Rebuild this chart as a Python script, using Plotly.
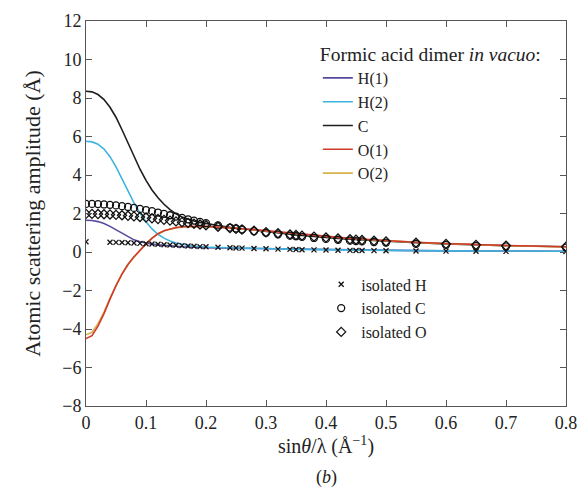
import plotly.graph_objects as go

# Tabulated sinθ/λ values (Å⁻¹): 0.01 steps up to 0.20, then coarser
s_table = [0.00, 0.01, 0.02, 0.03, 0.04, 0.05, 0.06, 0.07, 0.08, 0.09,
           0.10, 0.11, 0.12, 0.13, 0.14, 0.15, 0.16, 0.17, 0.18, 0.19,
           0.20, 0.22, 0.24, 0.25, 0.26, 0.28, 0.30, 0.32, 0.34, 0.35,
           0.36, 0.38, 0.40, 0.42, 0.44, 0.45, 0.46, 0.48, 0.50, 0.55,
           0.60, 0.65, 0.70, 0.80]

# Atomic scattering amplitudes (Å) of the atoms in the formic acid dimer
h1_amp = [1.65, 1.64, 1.58, 1.48, 1.33, 1.15, 0.95, 0.77, 0.63, 0.53,
          0.46, 0.41, 0.37, 0.34, 0.31, 0.29, 0.27, 0.26, 0.24, 0.23,
          0.22, 0.21, 0.20, 0.19, 0.185, 0.17, 0.16, 0.15, 0.14, 0.135,
          0.13, 0.12, 0.11, 0.10, 0.095, 0.09, 0.088, 0.083, 0.08, 0.07,
          0.06, 0.055, 0.05, 0.04]
h2_amp = [5.75, 5.72, 5.60, 5.35, 4.95, 4.42, 3.80, 3.15, 2.55, 2.02,
          1.57, 1.20, 0.92, 0.72, 0.57, 0.47, 0.40, 0.35, 0.31, 0.28,
          0.26, 0.235, 0.215, 0.205, 0.195, 0.18, 0.165, 0.155, 0.145, 0.14,
          0.135, 0.125, 0.115, 0.105, 0.098, 0.094, 0.09, 0.085, 0.08, 0.07,
          0.06, 0.055, 0.05, 0.04]
c_amp = [8.35, 8.32, 8.18, 7.92, 7.52, 7.00, 6.35, 5.65, 4.95, 4.30,
         3.72, 3.22, 2.82, 2.48, 2.20, 1.98, 1.82, 1.70, 1.61, 1.54,
         1.48, 1.38, 1.29, 1.25, 1.21, 1.13, 1.05, 0.98, 0.92, 0.89,
         0.86, 0.80, 0.75, 0.70, 0.66, 0.64, 0.62, 0.58, 0.55, 0.48,
         0.42, 0.37, 0.33, 0.27]
o1_amp = [-4.50, -4.35, -3.85, -3.20, -2.45, -1.75, -1.15, -0.65, -0.25, 0.10,
          0.42, 0.72, 0.95, 1.10, 1.20, 1.27, 1.31, 1.33, 1.34, 1.34,
          1.33, 1.30, 1.26, 1.24, 1.21, 1.16, 1.10, 1.04, 0.98, 0.95,
          0.92, 0.86, 0.81, 0.76, 0.71, 0.69, 0.67, 0.63, 0.59, 0.51,
          0.44, 0.38, 0.34, 0.27]
o2_amp = [-4.30, -4.17, -3.72, -3.12, -2.40, -1.72, -1.13, -0.64, -0.25, 0.09,
          0.41, 0.71, 0.94, 1.09, 1.19, 1.26, 1.30, 1.32, 1.33, 1.33,
          1.32, 1.29, 1.25, 1.23, 1.20, 1.15, 1.09, 1.03, 0.97, 0.94,
          0.91, 0.85, 0.80, 0.75, 0.70, 0.68, 0.66, 0.62, 0.58, 0.50,
          0.43, 0.37, 0.33, 0.26]

# Isolated atoms at the same tabulated points
iso_c = [2.50, 2.50, 2.49, 2.47, 2.45, 2.42, 2.38, 2.34, 2.29, 2.24,
         2.18, 2.12, 2.05, 1.98, 1.91, 1.84, 1.77, 1.70, 1.63, 1.56,
         1.50, 1.38, 1.27, 1.22, 1.17, 1.08, 0.99, 0.92, 0.85, 0.82,
         0.79, 0.73, 0.68, 0.63, 0.59, 0.57, 0.55, 0.52, 0.49, 0.42,
         0.37, 0.32, 0.29, 0.23]
iso_o = [1.98, 1.98, 1.97, 1.96, 1.95, 1.93, 1.91, 1.88, 1.85, 1.82,
         1.79, 1.75, 1.71, 1.67, 1.63, 1.59, 1.55, 1.51, 1.47, 1.43,
         1.39, 1.31, 1.24, 1.20, 1.17, 1.10, 1.03, 0.97, 0.91, 0.88,
         0.85, 0.80, 0.75, 0.70, 0.66, 0.64, 0.62, 0.58, 0.55, 0.48,
         0.42, 0.37, 0.33, 0.27]

# Isolated H is listed at s = 0 and then from 0.04 onwards
s_table_h = [0.00, 0.04, 0.05, 0.06, 0.07, 0.08, 0.09,
             0.10, 0.11, 0.12, 0.13, 0.14, 0.15, 0.16, 0.17, 0.18, 0.19,
             0.20, 0.22, 0.24, 0.25, 0.26, 0.28, 0.30, 0.32, 0.34, 0.35,
             0.36, 0.38, 0.40, 0.42, 0.44, 0.45, 0.46, 0.48, 0.50, 0.55,
             0.60, 0.65, 0.70, 0.80]
iso_h = [0.53, 0.51, 0.50, 0.49, 0.48, 0.47, 0.45,
         0.43, 0.42, 0.40, 0.38, 0.36, 0.35, 0.33, 0.31, 0.30, 0.28,
         0.27, 0.25, 0.22, 0.21, 0.20, 0.18, 0.165, 0.15, 0.135, 0.13,
         0.12, 0.11, 0.10, 0.093, 0.085, 0.082, 0.079, 0.072, 0.066, 0.055,
         0.045, 0.038, 0.032, 0.024]

FONT = "Liberation Serif, Times New Roman, serif"
INK = "#222"

fig = go.Figure()

# Dimer atoms as lines; O(2) drawn under O(1)
curves = [
    ("H(1)", h1_amp, "#56499c", 1),
    ("H(2)", h2_amp, "#3fb3df", 2),
    ("C", c_amp, "#1e1e1e", 3),
    ("O(2)", o2_amp, "#d6b24e", 5),
    ("O(1)", o1_amp, "#cf3b2b", 4),
]
for name, vals, color, rank in curves:
    fig.add_trace(go.Scatter(
        x=s_table, y=vals, name=name, mode="lines",
        line=dict(color=color, width=1.6),
        legend="legend", legendrank=rank,
    ))

# Isolated-atom reference values as open symbols
markers = [
    ("isolated H", s_table_h, iso_h, "x-thin", 5),
    ("isolated C", s_table, iso_c, "circle-open", 7),
    ("isolated O", s_table, iso_o, "diamond-open", 7),
]
for name, xs, ys, sym, size in markers:
    fig.add_trace(go.Scatter(
        x=xs, y=ys, name=name, mode="markers",
        marker=dict(symbol=sym, size=size, color="#111",
                    line=dict(color="#111", width=1.3)),
        legend="legend2",
    ))

axis_common = dict(
    showline=True, linecolor="#555", linewidth=1, mirror="ticks",
    ticks="inside", ticklen=6, tickcolor="#555", showgrid=False,
    zeroline=False, tickfont=dict(family=FONT, size=18, color=INK),
)

fig.update_xaxes(
    range=[0, 0.8], dtick=0.1, ticklabeloverflow="allow", **axis_common,
    title=dict(text="sin<i>θ</i>/λ (Å<sup>−1</sup>)",
               font=dict(family=FONT, size=20, color=INK), standoff=4),
)
fig.update_yaxes(
    range=[-8, 12], dtick=2, **axis_common,
    title=dict(text="Atomic scattering amplitude (Å)",
               font=dict(family=FONT, size=22, color=INK), standoff=15),
)

fig.update_layout(
    width=588, height=495,
    margin=dict(l=86, r=11, t=20, b=89),
    paper_bgcolor="white", plot_bgcolor="white",
    font=dict(family=FONT, color=INK),
    legend=dict(
        x=0.483, y=0.962, xanchor="left", yanchor="top",
        bgcolor="rgba(0,0,0,0)",
        title=dict(text="Formic acid dimer <i>in vacuo</i>:",
                   font=dict(family=FONT, size=19.5, color=INK)),
        font=dict(family=FONT, size=16, color=INK),
        itemwidth=30, tracegroupgap=0,
    ),
    legend2=dict(
        x=0.49, y=0.36, xanchor="left", yanchor="top",
        bgcolor="rgba(0,0,0,0)",
        font=dict(family=FONT, size=16, color=INK),
        itemwidth=30, tracegroupgap=0,
    ),
    annotations=[dict(
        text="(<i>b</i>)", xref="paper", yref="paper", x=0.5, y=-0.186,
        xanchor="center", yanchor="middle", showarrow=False,
        font=dict(family=FONT, size=18, color=INK),
    )],
)

fig.write_html("out.html")
